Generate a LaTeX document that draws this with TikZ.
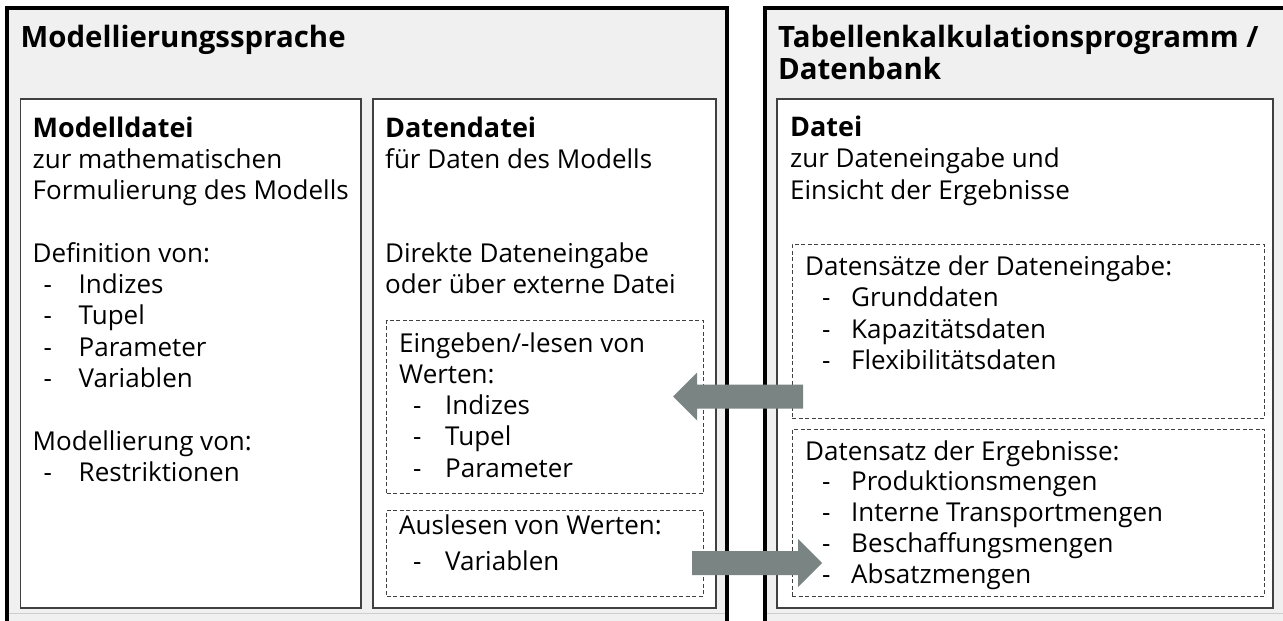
\documentclass[tikz,border=0pt]{standalone}
\usepackage{fontspec}
\setmainfont{Open Sans}
\definecolor{panelgray}{RGB}{240,240,240}
\definecolor{framegray}{RGB}{64,64,64}
\definecolor{flowgray}{RGB}{122,133,131}
\definecolor{seamgray}{RGB}{205,205,205}
% bullet line: dash at a small indent, item text at a fixed tab
\newcommand\bul[2][11pt]{\makebox[46pt][l]{\hspace{#1}-}#2}
% bold heading inside a file box
\newcommand\head[1]{{\fontsize{27}{31.3}\selectfont\bfseries #1}}

\begin{document}
\begin{tikzpicture}[x=1pt,y=-1pt,
  outerbox/.style={draw=black, line width=4pt, fill=panelgray, rectangle, inner sep=0pt, outer sep=0pt},
  filebox/.style={draw=framegray, line width=1.3pt, fill=white, rectangle, inner sep=0pt, outer sep=0pt},
  setbox/.style={draw=framegray, line width=1pt, dash pattern=on 4pt off 2.5pt, rectangle, inner sep=0pt, outer sep=0pt},
  % multi-line texts are anchored at the baseline of their last line
  body/.style={anchor=base west, align=left, inner sep=0pt, font=\fontsize{26}{31.3}\selectfont},
  title/.style={anchor=base west, align=left, inner sep=0pt, font=\fontsize{29.4}{32}\selectfont\bfseries},
  flowarrow/.style={fill=flowgray, draw=none}
]
\useasboundingbox (0,0) rectangle (1283,621);
\fill[white] (0,0) rectangle (1283,621);

% two tool panels (cut off at the lower and right edges)
\node[outerbox, minimum width=720pt, minimum height=632pt] (lang) at (367,324) {};
\node[outerbox, minimum width=545.5pt, minimum height=632pt] (calc) at (1037.25,324) {};
\draw[seamgray, line width=1pt] (9,613) -- (725,613);
\draw[seamgray, line width=1pt] (767,613) -- (1283,613);

\node[title] (langtitle) at (20.5,47) {Modellierungssprache};
\node[title] (calctitle) at (778,79) {Tabellenkalkulationsprogramm /\\Datenbank};

% files
\node[filebox, minimum width=340.5pt, minimum height=509pt] (model) at (190.75,353.5) {};
\node[filebox, minimum width=343pt, minimum height=509pt] (data) at (544.5,353.5) {};
\node[filebox, minimum width=496pt, minimum height=509pt] (sheet) at (1025,353.5) {};

% data sets
\node[setbox, minimum width=316.5pt, minimum height=173.5pt] (dataIn) at (544.75,406.75) {};
\node[setbox, minimum width=316.5pt, minimum height=86pt] (dataOut) at (544.75,553) {};
\node[setbox, minimum width=472pt, minimum height=174pt] (sheetIn) at (1028,331) {};
\node[setbox, minimum width=472pt, minimum height=167pt] (sheetOut) at (1028,512.5) {};

% texts
\node[body] (modeltxt) at (32.5,481.3) {\head{Modelldatei}\\zur mathematischen\\Formulierung des Modells\\[31.3pt]Definition von:\\\bul{Indizes}\\\bul{Tupel}\\\bul{Parameter}\\\bul{Variablen}\\[31.3pt]Modellierung von:\\\bul{Restriktionen}};

\node[body] (datatxt) at (385,168.3) {\head{Datendatei}\\für Daten des Modells};
\node[body] (datamode) at (385,293.3) {Direkte Dateneingabe\\oder über externe Datei};
\node[body] (dataintxt) at (399,477.2) {Eingeben/-lesen von\\Werten:\\\bul[14pt]{Indizes}\\\bul[14pt]{Tupel}\\\bul[14pt]{Parameter}};
\node[body] (dataouttxt) at (399,570.5) {Auslesen von Werten:\\[5pt]\bul[14pt]{Variablen}};

\node[body] (sheettxt) at (790,199) {\head{Datei}\\zur Dateneingabe und\\Einsicht der Ergebnisse};
\node[body] (sheetintxt) at (805,369.5) {Datensätze der Dateneingabe:\\\bul[17pt]{Grunddaten}\\\bul[17pt]{Kapazitätsdaten}\\\bul[17pt]{Flexibilitätsdaten}};
\node[body, font=\fontsize{26}{30.8}\selectfont] (sheetouttxt) at (805,583.2) {Datensatz der Ergebnisse:\\\bul[17pt]{Produktionsmengen}\\\bul[17pt]{Interne Transportmengen}\\\bul[17pt]{Beschaffungsmengen}\\\bul[17pt]{Absatzmengen}};

% data flows between the spreadsheet and the data file
\coordinate (inTip) at (673,396.5);
\coordinate (outTip) at (822,563);
\fill[flowarrow] (inTip) -- ++(24,-24) -- ++(0,12) -- ++(106,0) -- ++(0,24) -- ++(-106,0) -- ++(0,12) -- cycle;
\fill[flowarrow] (outTip) -- ++(-24,-24) -- ++(0,12) -- ++(-106,0) -- ++(0,24) -- ++(106,0) -- ++(0,12) -- cycle;
\end{tikzpicture}
\end{document}
